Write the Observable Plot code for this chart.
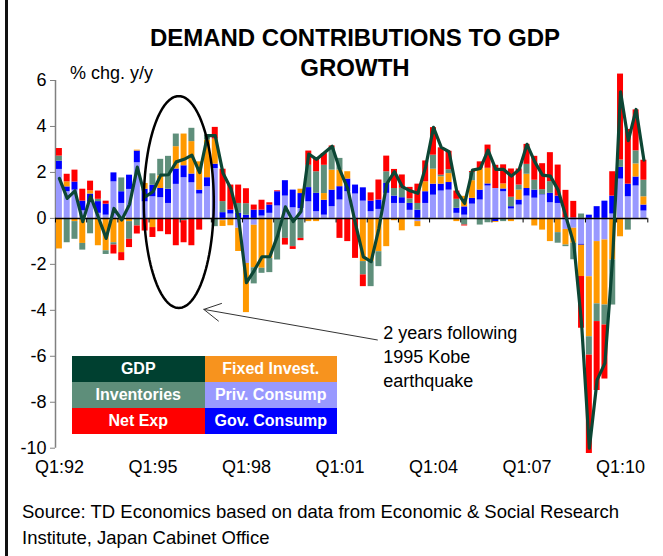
<!DOCTYPE html>
<html><head><meta charset="utf-8">
<script src="https://cdn.jsdelivr.net/npm/d3@7"></script>
<script src="https://cdn.jsdelivr.net/npm/@observablehq/plot@0.6"></script>
<style>
html,body{margin:0;padding:0;background:#fff;}
body{width:663px;height:556px;position:relative;overflow:hidden;font-family:"Liberation Sans",Arial,sans-serif;color:#000;}
#frame{position:absolute;left:5px;top:0;width:2.5px;height:556px;background:#111;}
#chart{position:absolute;left:0;top:0;}
#title{position:absolute;left:55px;width:600px;top:23px;text-align:center;font-weight:bold;font-size:24px;line-height:30px;}
#unit{position:absolute;left:70px;top:63px;font-size:18px;line-height:20px;}
#legend{position:absolute;left:72px;top:356px;border-collapse:collapse;table-layout:fixed;width:265px;}
#legend td{height:26px;padding:0;text-align:center;color:#fff;font-weight:bold;font-size:16px;white-space:nowrap;}
#source{position:absolute;left:22px;top:499px;font-size:18.5px;line-height:26px;}
[aria-label^="y-axis"] line,[aria-label^="y-axis"] path{stroke:#808080;}
</style></head>
<body>
<div id="frame"></div>
<div id="chart"></div>
<div id="title">DEMAND CONTRIBUTIONS TO GDP<br>GROWTH</div>
<div id="unit">% chg. y/y</div>
<table id="legend"><tbody>
<tr><td style="background:#004030">GDP</td><td style="background:#F7931E">Fixed Invest.</td></tr>
<tr><td style="background:#5E8E7A">Inventories</td><td style="background:#9999FF">Priv. Consump</td></tr>
<tr><td style="background:#FF0000">Net Exp</td><td style="background:#0000FF">Gov. Consump</td></tr>
</tbody></table>
<div id="source">Source: TD Economics based on data from Economic &amp; Social Research<br>Institute, Japan Cabinet Office</div>
<script>
// Quarterly contributions, Q1:92 .. Q4:10 (76 quarters)
const privConsump = [2.13,1.16,1.23,0.33,0.70,0.22,0.14,1.59,0.65,1.26, 2.42,0.72,0.94,0.90,0.65,1.48,1.77,1.55,1.06,1.38, 2.17,-0.10,0.19,-0.43,-1.96,-0.30,0.10,0.22,0.54,0.97, 0.46,0.43,0.72,0.29,0.14,0.51,0.80,1.16,1.06,0.75, 0.29,0.39,1.09,0.65,0.65,0.35,-0.14,0.65,1.01,1.19, 1.23,0.22,0.14,0.62,0.80,1.41,1.30,1.16,0.41,0.58, 0.97,0.88,1.01,0.68,0.65,-0.48,-0.43,-1.13,-2.54,-1.01, -0.94,0.19,1.71,0.94,1.41,0.32];
const govConsump = [0.36,0.21,0.35,0.42,0.36,0.51,0.48,0.39,0.51,0.62, 0.51,0.55,0.50,0.40,0.62,0.67,0.52,0.38,0.17,0.39, 0.19,0.25,0.17,0.22,0.14,0.36,0.26,0.36,0.62,0.67, 0.77,0.65,0.62,0.80,0.65,0.72,0.58,0.55,0.39,0.58, 0.46,0.41,0.43,0.32,0.25,0.30,0.36,0.51,0.48,0.30, 0.33,0.22,0.36,0.25,0.43,0.09,-0.14,0.12,0.10,0.22, 0.33,0.35,0.02,0.41,0.32,0.02,0.02,-0.04,0.14,0.51, 0.75,0.78,0.51,0.55,0.39,0.26];
const fixedInvest = [-1.33,0.22,-0.14,-1.09,0.14,-1.19,-1.41,-1.06,-1.49,-0.14, 0.04,0.25,-0.40,0.55,0.00,0.97,1.38,1.41,1.23,1.64, 1.09,-0.25,-0.32,-1.01,-2.14,-1.85,-2.17,-1.74,0.00,0.00, 0.00,0.19,-0.14,-0.14,0.29,0.87,0.72,0.32,0.00,-1.88, -1.88,-1.45,-1.23,-0.10,-0.54,0.00,-0.22,0.43,0.65,0.32, 0.39,-0.14,0.46,0.77,0.94,0.68,-0.04,0.22,-0.14,0.43, 0.62,-0.33,-0.51,-1.01,-0.62,-0.68,-0.65,-1.36,-2.61,-2.71, -2.83,-1.81,-0.80,-0.05,0.57,0.36];
const inventories = [0.22,-1.06,-0.77,-0.29,-0.67,0.10,-0.16,-0.10,0.60,-0.77, -0.33,-0.05,0.50,0.72,1.43,0.55,-0.10,0.58,0.00,0.22, -0.36,0.48,0.00,0.43,0.50,-0.70,-0.22,-0.62,-1.81,-0.87, -1.23,-0.87,0.97,0.94,1.23,0.99,0.51,0.00,0.00,-0.58, -1.09,-0.65,0.51,0.33,0.41,0.20,0.29,-0.04,0.61,0.07, 0.17,0.39,-0.29,0.36,-0.29,-0.19,0.00,-0.14,0.41,0.22, 0.43,0.43,0.22,0.51,-0.46,-0.07,-0.72,0.19,-0.80,-0.77, -0.87,-1.96,0.32,-0.46,0.57,0.72];
const netExp = [0.33,0.33,0.52,0.52,0.42,0.36,0.13,-0.39,-0.35,-0.36, -0.35,-0.50,-0.43,-0.58,-0.71,-1.19,-0.96,-1.19,-0.51,0.00, 0.51,1.41,1.09,0.80,0.65,0.22,0.43,0.10,0.04,-0.29, -0.12,-0.10,0.62,0.62,0.51,0.06,-0.87,-1.01,-1.74,-0.51, 0.36,0.87,0.68,0.83,0.58,0.50,0.84,0.91,1.20,1.19, 0.80,0.36,-0.04,0.04,0.29,1.01,1.01,0.83,1.23,0.70, 0.87,1.04,1.13,1.26,1.35,1.20,0.72,-2.25,-4.28,-3.00, -2.35,1.06,3.74,2.38,1.78,0.87];
const gdp = [1.74,0.87,1.20,-0.14,0.97,0.05,-0.87,0.43,-0.07,0.61, 2.23,0.94,1.16,1.88,1.90,2.46,2.57,2.75,1.99,3.60, 3.60,1.96,1.30,0.00,-2.80,-2.27,-1.67,-1.67,-0.75,0.50, -0.14,0.30,2.80,2.57,2.86,3.14,2.10,1.30,-0.25,-1.67, -1.88,-0.43,1.50,2.03,1.38,1.20,1.09,2.25,3.96,3.09, 2.90,1.16,0.65,2.10,2.17,2.97,2.13,2.13,1.84,2.13, 3.22,2.46,1.88,1.84,1.23,0.07,-1.09,-4.57,-10.0,-7.03, -6.30,-1.70,5.51,3.38,4.74,2.54];

const xTickLabels = ["Q1:92","Q1:95","Q1:98","Q1:01","Q1:04","Q1:07","Q1:10"];
const yTicks = [-10,-8,-6,-4,-2,0,2,4,6];
const seriesNames = ["Priv. Consump","Gov. Consump","Fixed Invest.","Inventories","Net Exp"];
const seriesColors = ["#9999FF","#0000FF","#FF9900","#5F8F7B","#FF0000"];
const gdpColor = "#0C4634";

// annotation (data units: quarter index, % points)
const ellipseAnno = {cx: 15.82, cy: 0.71, rx: 4.49, ry: 4.61};
const arrowAnno = [{x1: 41.3, y1: -5.29, x2: 19.03, y2: -3.96}];
const textAnno = [{x: 42.05, y: -5.97, text: "2 years following\n1995 Kobe\nearthquake"}];

const seriesArrays = [privConsump, govConsump, fixedInvest, inventories, netExp];
const rows = [];
for (let t = 0; t < gdp.length; t++) seriesArrays.forEach((arr, k) => rows.push({t, s: seriesNames[k], v: arr[t]}));
const gdpRows = gdp.map((v, t) => ({t: t + 0.5, v}));
const nQ = gdp.length;
const yearBounds = d3.range(0, nQ + 1, 4);
const xTickPos = xTickLabels.map((_, i) => i * 12 + 0.5);
const ellipsePts = d3.range(0, 121).map(k => {
  const a = (k / 120) * 2 * Math.PI;
  return {t: ellipseAnno.cx + ellipseAnno.rx * Math.cos(a), v: ellipseAnno.cy + ellipseAnno.ry * Math.sin(a)};
});

const chart = Plot.plot({
  width: 663, height: 480,
  marginTop: 80, marginBottom: 32.3, marginLeft: 55, marginRight: 15.7,
  style: {fontSize: "18px", fontFamily: "'Liberation Sans', Arial, sans-serif", color: "#000", background: "transparent", overflow: "visible"},
  x: {domain: [0, nQ], ticks: xTickPos, tickFormat: d => xTickLabels[Math.round((d - 0.5) / 12)], tickSize: 0, tickPadding: 12, label: null},
  y: {domain: [-10, 6], ticks: yTicks, tickFormat: d => String(d), tickSize: 5, tickPadding: 4, label: null},
  color: {domain: seriesNames, range: seriesColors},
  marks: [
    Plot.ruleX([0], {stroke: "#808080", strokeWidth: 1.5}),
    Plot.rectY(rows, {x1: "t", x2: d => d.t + 1, y: "v", fill: "s", insetLeft: 0.9, insetRight: 0.9}),
    Plot.ruleY([0], {stroke: "#000", strokeWidth: 1.5}),
    Plot.ruleX(yearBounds, {y1: 0, y2: -0.2, stroke: "#000", strokeWidth: 1}),
    Plot.line(gdpRows, {x: "t", y: "v", stroke: gdpColor, strokeWidth: 3.2, strokeLinejoin: "round"}),
    Plot.line(ellipsePts, {x: "t", y: "v", stroke: "#000", strokeWidth: 2.5}),
    Plot.arrow(arrowAnno, {x1: "x1", y1: "y1", x2: "x2", y2: "y2", stroke: "#333", strokeWidth: 1, headLength: 28, headAngle: 57}),
    Plot.text(textAnno, {x: "x", y: "y", text: "text", textAnchor: "start", lineAnchor: "middle", lineHeight: 1.333, fontSize: 18, fill: "#000"})
  ]
});
document.getElementById("chart").appendChild(chart);
</script>
</body></html>
